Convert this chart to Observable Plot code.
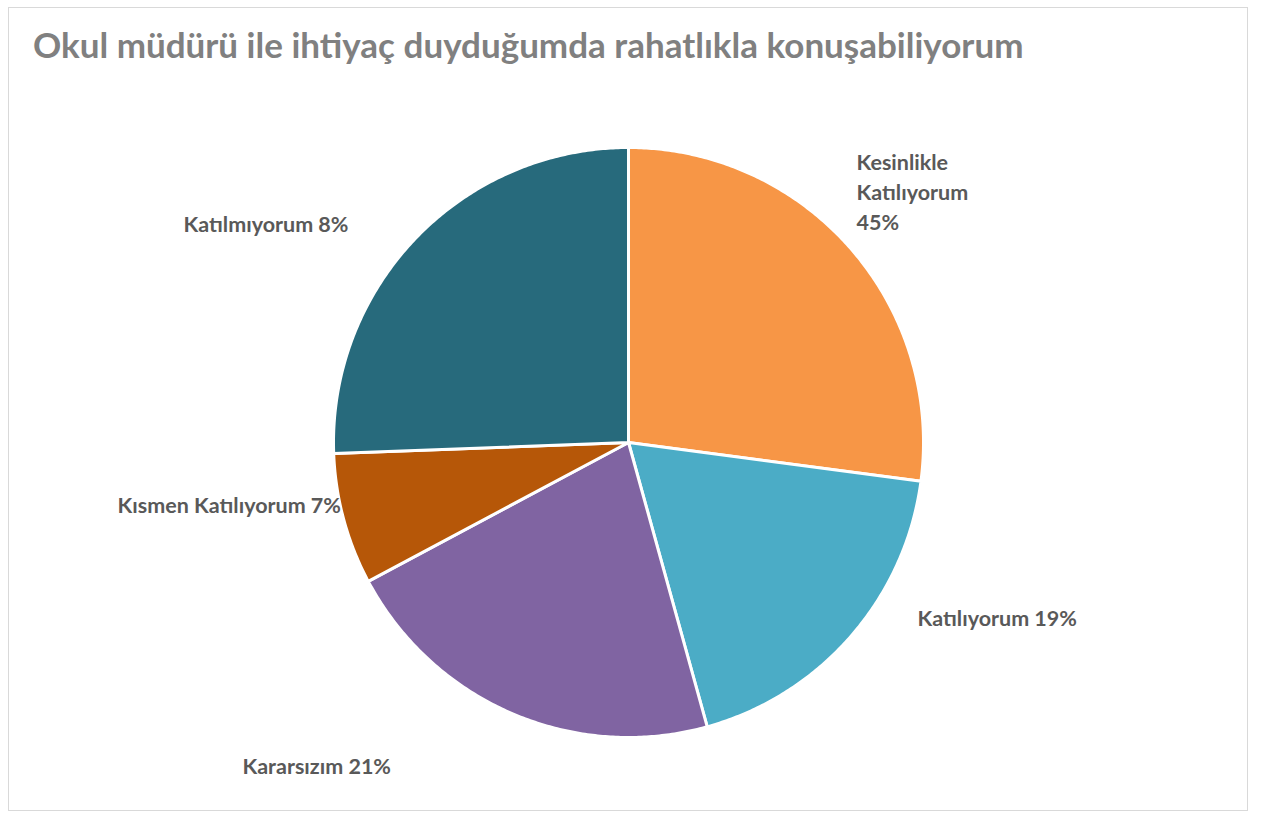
<!DOCTYPE html>
<html>
<head>
<meta charset="utf-8">
<script src="https://cdn.jsdelivr.net/npm/d3@7"></script>
<script src="https://cdn.jsdelivr.net/npm/@observablehq/plot@0.6"></script>
<style>
  html, body { margin: 0; padding: 0; background: #ffffff; }
  body { position: relative; width: 1262px; height: 813px; overflow: hidden; }
  #frame { position: absolute; left: 8px; top: 7px; width: 1240px; height: 804px; box-sizing: border-box; border: 1px solid #d9d9d9; }
  #title { position: absolute; left: 33px; top: 23px; font-family: Lato, sans-serif; font-weight: 700; font-size: 35px; line-height: 1.2; color: #808080; white-space: nowrap; }
  #chart { position: absolute; left: 0; top: 0; }
</style>
</head>
<body>
<div id="frame"></div>
<div id="chart"></div>
<div id="title">Okul müdürü ile ihtiyaç duyduğumda rahatlıkla konuşabiliyorum</div>
<script>
// Data
const categories = ["Kesinlikle Katılıyorum", "Katılıyorum", "Kararsızım", "Kısmen Katılıyorum", "Katılmıyorum"];
const sliceShares = [27.1, 18.6, 21.5, 7.2, 25.6];       // slice sizes as drawn (%)
const labelTexts = ["Kesinlikle\nKatılıyorum\n45%", "Katılıyorum 19%", "Kararsızım 21%", "Kısmen Katılıyorum 7%", "Katılmıyorum 8%"];
const colors = ["#F79646", "#4BACC6", "#8064A2", "#B65708", "#276A7C"];

// Layout
const W = 1262, H = 813;
const cx = 628, cy = 442, R = 295;
// label anchors (start of text, vertical middle) in page pixels
const labelPos = {
  "Kesinlikle Katılıyorum": [856, 190],
  "Katılıyorum": [917, 616],
  "Kararsızım": [242, 764],
  "Kısmen Katılıyorum": [117, 503],
  "Katılmıyorum": [183, 222]
};

const pie = d3.pie().sort(null).value(d => d)(sliceShares);
const pts = [];
pie.forEach((p, i) => {
  const cat = categories[i];
  pts.push({cat, x: cx, y: cy});
  const steps = Math.max(2, Math.ceil((p.endAngle - p.startAngle) / (Math.PI / 360)));
  for (let k = 0; k <= steps; k++) {
    const a = p.startAngle + (p.endAngle - p.startAngle) * k / steps;
    pts.push({cat, x: cx + R * Math.sin(a), y: cy - R * Math.cos(a)});
  }
  pts.push({cat, x: cx, y: cy});
});

const labels = categories.map((c, i) => ({cat: c, text: labelTexts[i], x: labelPos[c][0], y: labelPos[c][1]}));

const chart = Plot.plot({
  width: W,
  height: H,
  margin: 0,
  x: {domain: [0, W], range: [0, W], axis: null},
  y: {domain: [0, H], range: [0, H], axis: null},
  color: {domain: categories, range: colors},
  style: {background: "transparent"},
  marks: [
    Plot.line(pts, {x: "x", y: "y", z: "cat", fill: "cat", stroke: "#ffffff", strokeWidth: 3, strokeLinejoin: "round", curve: "linear"}),
    Plot.text(labels, {x: "x", y: "y", text: "text", textAnchor: "start", lineAnchor: "middle", lineHeight: 1.4,
      fill: "#595959", fontSize: 21.5, fontWeight: 700, fontFamily: "Lato, sans-serif"})
  ]
});
document.getElementById("chart").appendChild(chart);
</script>
</body>
</html>
